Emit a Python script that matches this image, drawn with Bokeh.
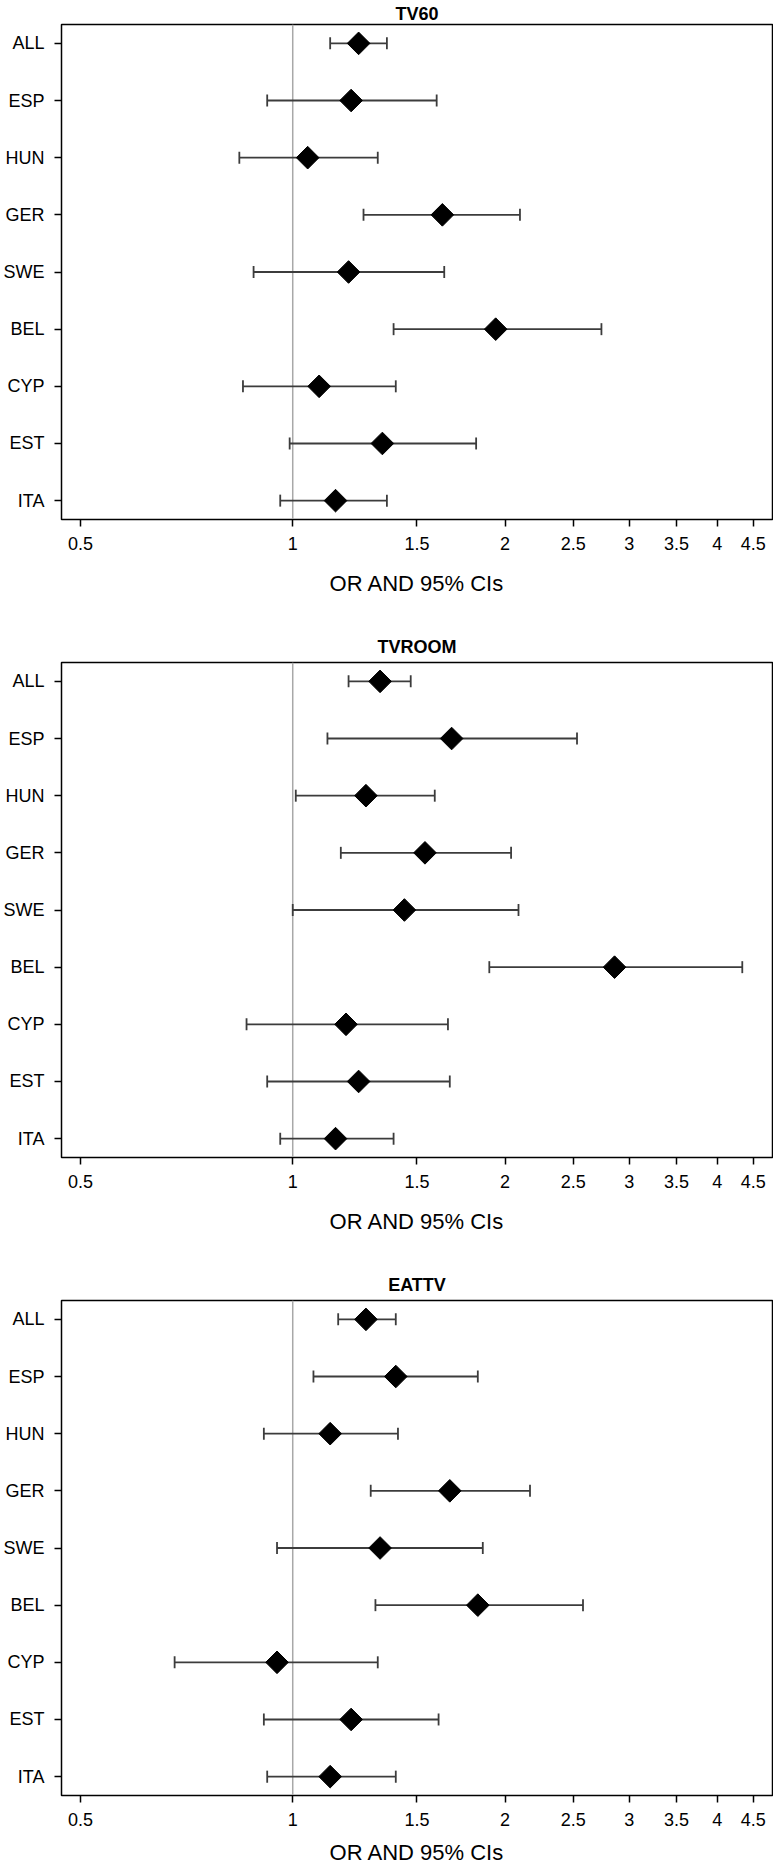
import numpy as np
from bokeh.plotting import figure
from bokeh.layouts import column
from bokeh.models import Range1d, FixedTicker, Span, ColumnDataSource
from bokeh.embed import file_html
from bokeh.resources import INLINE

# ---- data ----
countries = ["ALL", "ESP", "HUN", "GER", "SWE", "BEL", "CYP", "EST", "ITA"]
x_ticks = [0.5, 1, 1.5, 2, 2.5, 3, 3.5, 4, 4.5]
x_tick_labels = ["0.5", "1", "1.5", "2", "2.5", "3", "3.5", "4", "4.5"]

tv60_or = [1.24, 1.21, 1.05, 1.63, 1.20, 1.94, 1.09, 1.34, 1.15]
tv60_lo = [1.13, 0.92, 0.84, 1.26, 0.88, 1.39, 0.85, 0.99, 0.96]
tv60_hi = [1.36, 1.60, 1.32, 2.10, 1.64, 2.74, 1.40, 1.82, 1.36]

tvroom_or = [1.33, 1.68, 1.27, 1.54, 1.44, 2.86, 1.19, 1.24, 1.15]
tvroom_lo = [1.20, 1.12, 1.01, 1.17, 1.00, 1.90, 0.86, 0.92, 0.96]
tvroom_hi = [1.47, 2.53, 1.59, 2.04, 2.09, 4.34, 1.66, 1.67, 1.39]

eattv_or = [1.27, 1.40, 1.13, 1.67, 1.33, 1.83, 0.95, 1.21, 1.13]
eattv_lo = [1.16, 1.07, 0.91, 1.29, 0.95, 1.31, 0.68, 0.91, 0.92]
eattv_hi = [1.40, 1.83, 1.41, 2.17, 1.86, 2.58, 1.32, 1.61, 1.40]

panels = [
    ("TV60", tv60_or, tv60_lo, tv60_hi),
    ("TVROOM", tvroom_or, tvroom_lo, tvroom_hi),
    ("EATTV", eattv_or, eattv_lo, eattv_hi),
]

FONT = "Liberation Sans"
BAR = "#3c3c3c"


def make_panel(title, est, lo, hi, top_border, title_standoff,
               bottom_border, label_standoff):
    n = len(countries)
    pad = 0.33
    p = figure(
        x_axis_type="log",
        x_range=Range1d(0.47, 4.79),
        y_range=Range1d(n - 1 + pad, -pad),
        frame_width=711, frame_height=495,
        min_border_left=60, min_border_right=1,
        min_border_top=top_border, min_border_bottom=bottom_border,
        output_backend="svg", toolbar_location=None, title=title,
    )
    p.background_fill_color = "white"
    p.border_fill_color = "white"
    p.outline_line_color = "black"
    p.outline_line_width = 1.5
    p.grid.visible = False

    p.title.align = "center"
    p.title.text_font = FONT
    p.title.text_font_size = "18px"
    p.title.text_font_style = "bold"
    p.title.text_color = "black"
    p.title.standoff = title_standoff

    src = ColumnDataSource(dict(y=list(range(n)), est=est, lo=lo, hi=hi))

    p.add_layout(Span(location=1, dimension="height", line_color="#a8a8a8",
                      line_width=1.5, level="underlay"))
    p.segment(x0="lo", y0="y", x1="hi", y1="y", source=src,
              line_color=BAR, line_width=1.8)
    p.scatter(x="lo", y="y", source=src, marker="dash", angle=np.pi / 2,
              size=12, line_color=BAR, line_width=1.8)
    p.scatter(x="hi", y="y", source=src, marker="dash", angle=np.pi / 2,
              size=12, line_color=BAR, line_width=1.8)
    p.scatter(x="est", y="y", source=src, marker="square", angle=np.pi / 4,
              size=16, fill_color="black", line_color="black")

    ya = p.yaxis[0]
    ya.ticker = FixedTicker(ticks=list(range(n)), minor_ticks=[])
    ya.major_label_overrides = {i: c for i, c in enumerate(countries)}
    ya.major_tick_out = 7
    ya.major_tick_in = 0
    ya.major_tick_line_color = "black"
    ya.major_tick_line_width = 1.5
    ya.minor_tick_line_color = None
    ya.axis_line_color = "black"
    ya.major_label_standoff = 10
    ya.major_label_text_font = FONT
    ya.major_label_text_font_size = "18px"
    ya.major_label_text_color = "black"

    xa = p.xaxis[0]
    xa.ticker = FixedTicker(ticks=x_ticks, minor_ticks=[])
    xa.major_label_overrides = {t: l for t, l in zip(x_ticks, x_tick_labels)}
    xa.major_tick_out = 7
    xa.major_tick_in = 0
    xa.major_tick_line_color = "black"
    xa.major_tick_line_width = 1.5
    xa.minor_tick_line_color = None
    xa.axis_line_color = "black"
    xa.major_label_standoff = 10
    xa.major_label_text_font = FONT
    xa.major_label_text_font_size = "18px"
    xa.major_label_text_color = "black"
    xa.axis_label = "OR AND 95% CIs"
    xa.axis_label_text_font = FONT
    xa.axis_label_text_font_size = "22px"
    xa.axis_label_text_font_style = "normal"
    xa.axis_label_text_color = "black"
    xa.axis_label_standoff = label_standoff
    return p


settings = [
    (24, 2, 110, 18),
    (33, 11, 110, 18),
    (33, 11, 0, 11),
]

figs = []
for (t, e, l, h), (tb, ts, bb, ls) in zip(panels, settings):
    figs.append(make_panel(t, e, l, h, tb, ts, bb, ls))

layout = column(*figs, spacing=0)
open("out.html", "w").write(file_html(layout, INLINE))
